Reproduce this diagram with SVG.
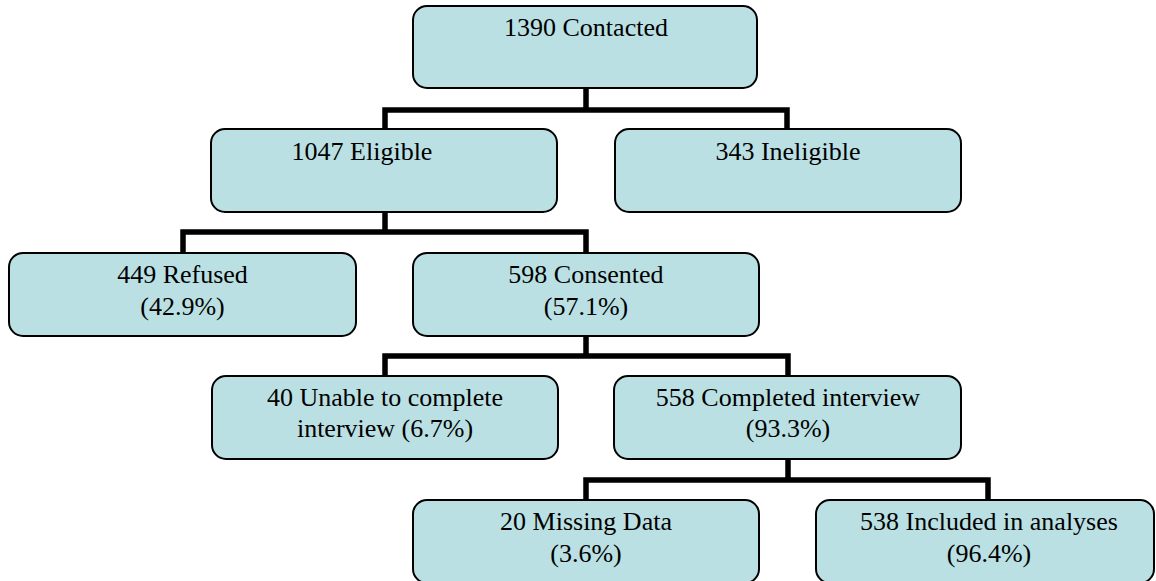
<svg xmlns="http://www.w3.org/2000/svg" width="1156" height="581" viewBox="0 0 1156 581">
<style>
.box{fill:#BAE0E3;stroke:#000;stroke-width:2}
.t{font-family:"Liberation Serif","Times New Roman",serif;font-size:26px;fill:#000;text-anchor:middle}
.c{fill:none;stroke:#000;stroke-width:5.5;stroke-linejoin:miter;stroke-linecap:butt}
</style>
<rect width="1156" height="581" fill="#fff"/>
<g id="connectors">
<path class="c" d="M586 88V110M385 129V110H787V129"/>
<path class="c" d="M385 212V232M183 253V232H586V253"/>
<path class="c" d="M586 336V356M385 376V356H788V376"/>
<path class="c" d="M788 459V480M586 500V480H988V500"/>
</g>
<g id="n-contacted">
<rect class="box" x="413" y="6" width="344" height="82" rx="14"/>
<text class="t" x="586" y="36">1390 Contacted</text>
</g>
<g id="n-eligible">
<rect class="box" x="211" y="129" width="346" height="83" rx="14"/>
<text class="t" x="362" y="160">1047 Eligible</text>
</g>
<g id="n-ineligible">
<rect class="box" x="615" y="129" width="346" height="83" rx="14"/>
<text class="t" x="788" y="160">343 Ineligible</text>
</g>
<g id="n-refused">
<rect class="box" x="9" y="253" width="347" height="83" rx="14"/>
<text class="t" x="182.5" y="283">449 Refused</text>
<text class="t" x="182.5" y="315">(42.9%)</text>
</g>
<g id="n-consented">
<rect class="box" x="413" y="253" width="346" height="83" rx="14"/>
<text class="t" x="586" y="283">598 Consented</text>
<text class="t" x="586" y="315">(57.1%)</text>
</g>
<g id="n-unable">
<rect class="box" x="212" y="376" width="346" height="83" rx="14"/>
<text class="t" x="385" y="406">40 Unable to complete</text>
<text class="t" x="385" y="437">interview (6.7%)</text>
</g>
<g id="n-completed">
<rect class="box" x="614" y="376" width="347" height="83" rx="14"/>
<text class="t" x="788" y="406">558 Completed interview</text>
<text class="t" x="788" y="437">(93.3%)</text>
</g>
<g id="n-missing">
<rect class="box" x="413" y="500" width="346" height="83" rx="14"/>
<text class="t" x="586" y="530">20 Missing Data</text>
<text class="t" x="586" y="562">(3.6%)</text>
</g>
<g id="n-included">
<rect class="box" x="816" y="500" width="338" height="83" rx="14"/>
<text class="t" x="989" y="530">538 Included in analyses</text>
<text class="t" x="989" y="562">(96.4%)</text>
</g>
</svg>
